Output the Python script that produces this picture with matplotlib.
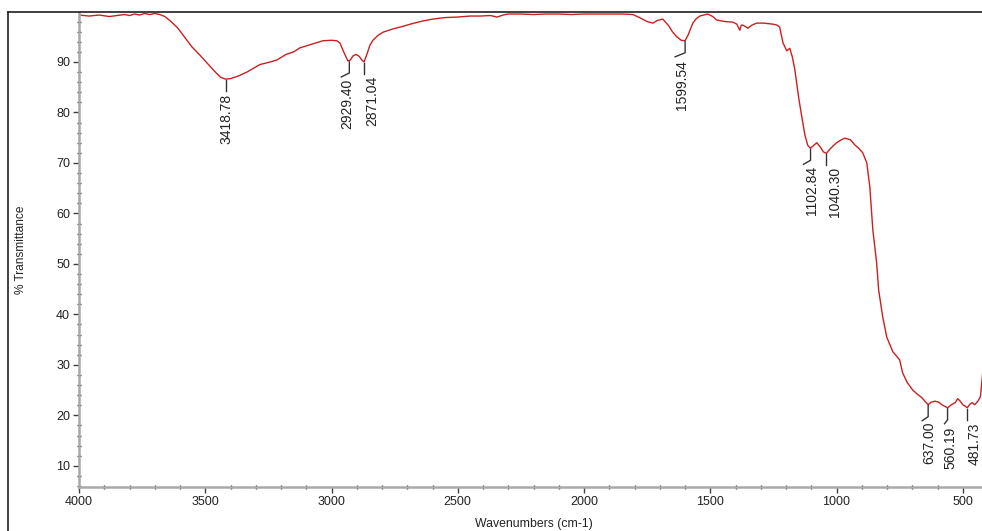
import matplotlib
matplotlib.use("Agg")
import matplotlib.pyplot as plt
from matplotlib.lines import Line2D
from matplotlib.ticker import MultipleLocator

# Espectro IR leído a mano del gráfico (número de onda, % transmitancia)
numero_onda = [
    4000, 3960, 3920, 3880, 3850, 3820, 3800, 3780, 3760, 3740, 3720, 3700,
    3680, 3660, 3640, 3610, 3580, 3553, 3520, 3493, 3460, 3440, 3420, 3400,
    3370, 3335, 3300, 3283, 3250, 3216, 3180, 3150, 3125, 3080, 3034, 3000,
    2979, 2967, 2950, 2935, 2925, 2915, 2903, 2890, 2880, 2871, 2860, 2848,
    2836, 2815, 2796, 2760, 2729, 2680, 2640, 2598, 2550, 2500, 2450, 2412,
    2370, 2345, 2320, 2300, 2250, 2200, 2150, 2100, 2050, 2000, 1950, 1900,
    1850, 1807, 1780, 1750, 1727, 1710, 1688, 1665, 1650, 1633, 1615, 1600,
    1588, 1569, 1555, 1541, 1510, 1490, 1474, 1440, 1411, 1395, 1383, 1377,
    1371, 1360, 1351, 1335, 1316, 1290, 1252, 1235, 1225, 1212, 1197, 1185,
    1175, 1165, 1150, 1138, 1125, 1114, 1103, 1090, 1078, 1065, 1052, 1040,
    1025, 1000, 980, 967, 945, 928, 910, 896, 880, 868, 856, 841,
    833, 817, 801, 777, 750, 738, 720, 698,
    680, 662, 650, 637, 625, 610, 595, 580, 560, 545, 530, 520,
    510, 500, 490, 482, 470, 462, 453, 440, 430, 425, 418,
]
transmitancia = [
    99.3, 99.1, 99.3, 99.0, 99.2, 99.4, 99.2, 99.5, 99.3, 99.6, 99.4, 99.6,
    99.4, 99.0, 98.2, 96.8, 94.8, 93.0, 91.3, 89.8, 88.0, 87.0, 86.6, 86.7,
    87.2, 88.0, 89.0, 89.5, 89.9, 90.4, 91.5, 92.0, 92.8, 93.5, 94.2, 94.3,
    94.2, 93.8, 91.8, 90.2, 90.4, 91.2, 91.5, 91.1, 90.4, 90.0, 91.5, 93.3,
    94.3, 95.3, 95.9, 96.5, 96.9, 97.6, 98.1, 98.5, 98.8, 98.9, 99.1, 99.1,
    99.2, 98.9, 99.3, 99.5, 99.5, 99.4, 99.5, 99.5, 99.4, 99.5, 99.5, 99.5,
    99.5, 99.4, 98.8, 98.0, 97.7, 98.2, 98.5, 97.2, 96.0, 95.0, 94.3, 94.2,
    95.3, 97.7, 98.6, 99.1, 99.5, 99.0, 98.3, 98.0, 97.9, 97.5, 96.3, 97.3,
    97.3, 97.0, 96.7, 97.3, 97.7, 97.7, 97.5, 97.3, 96.9, 93.8, 92.2, 92.7,
    91.0, 88.5, 83.0, 79.3, 75.5, 73.5, 72.9, 73.5, 74.0, 73.2, 72.2, 71.9,
    72.8, 74.0, 74.6, 74.9, 74.6, 73.6, 72.8, 72.0, 70.0, 65.2, 56.7, 50.2,
    44.8, 39.5, 35.5, 32.6, 31.0, 28.4, 26.5, 25.0,
    24.2, 23.5, 22.8, 22.1, 22.6, 22.8, 22.6, 22.0, 21.5, 22.1, 22.5, 23.3,
    22.8, 22.1, 21.8, 21.5, 22.3, 22.5, 22.1, 22.8, 23.7, 26.4, 30.0,
]

# Picos marcados
picos_onda = [3418.78, 2929.40, 2871.04, 1599.54, 1102.84, 1040.30, 637.00, 560.19, 481.73]
picos_trans = [86.6, 90.2, 90.0, 94.2, 72.9, 71.9, 22.1, 21.5, 21.5]

# Desplazamientos de las etiquetas en píxeles: (diagonal del guía, texto en x, espacio)
desplaz_picos = [(0, 1, 3), (-8, -2, 2), (0, 8, 2), (-10, -3, 3), (-7, 1, 2),
                 (0, 9, 2), (-6, 1, 1), (-3, 3, 3), (0, 7, 3)]

W, H = 982, 531
fig = plt.figure(figsize=(W / 100, H / 100), dpi=100)
fig.patch.set_facecolor("white")

plt.rcParams["font.family"] = ["Liberation Sans", "DejaVu Sans"]

# Eje ligeramente más ancho que la figura (captura recortada a la derecha)
izq, der, arriba, abajo = 79, 988, 12, 487
ax = fig.add_axes([izq / W, (H - abajo) / H, (der - izq) / W, (abajo - arriba) / H])
ax.set_facecolor("white")

ax.plot(numero_onda, transmitancia, color="#cc1f1f", lw=1.0)

ax.set_xlim(4000, 400)
ax.set_ylim(5.8, 99.9)

ax.xaxis.set_major_locator(MultipleLocator(500))
ax.xaxis.set_minor_locator(MultipleLocator(100))
ax.yaxis.set_major_locator(MultipleLocator(10))
ax.yaxis.set_minor_locator(MultipleLocator(2))
ax.set_yticks(range(10, 100, 10))

for lado in ["top", "right"]:
    ax.spines[lado].set_visible(False)
for lado in ["left", "bottom"]:
    ax.spines[lado].set_color("#a9a9a9")
    ax.spines[lado].set_linewidth(1.8)

ax.tick_params(which="major", direction="out", length=4.5, width=1.0,
               color="#404040", labelsize=9, labelcolor="#222222", pad=2)
ax.tick_params(which="minor", direction="inout", length=3, width=1.0,
               color="#404040")

ax.set_xlabel("Wavenumbers (cm-1)", fontsize=8.8, color="#222222", labelpad=7)
ax.set_ylabel("% Transmittance", fontsize=8.6, color="#222222", labelpad=21)

# Etiquetas de picos con su línea guía, construidas en píxeles
inv = ax.transData.inverted()
for wn, tr, (dxd, dxt, esp) in zip(picos_onda, picos_trans, desplaz_picos):
    px, py = ax.transData.transform((wn, tr))
    pts = [(px, py - 1), (px, py - 12)]
    if dxd != 0:
        pts.append((px + dxd, py - 16))
    fin_y = pts[-1][1]
    datos = inv.transform(pts)
    ax.plot(datos[:, 0], datos[:, 1], color="#333333", lw=1.0)
    tx, ty = inv.transform((px + dxt, fin_y - esp))
    ax.text(tx, ty, f"{wn:.2f}", rotation=90, ha="center", va="top",
            fontsize=10, color="#222222")

# Marco de la ventana original (borde izquierdo y superior)
fig.add_artist(Line2D([7.5 / W, 7.5 / W], [0, (H - 12) / H],
                      transform=fig.transFigure, color="#202020", lw=1.2))
fig.add_artist(Line2D([7.5 / W, 1], [(H - 12) / H, (H - 12) / H],
                      transform=fig.transFigure, color="#202020", lw=1.2))

fig.savefig("out.png", dpi=100)
